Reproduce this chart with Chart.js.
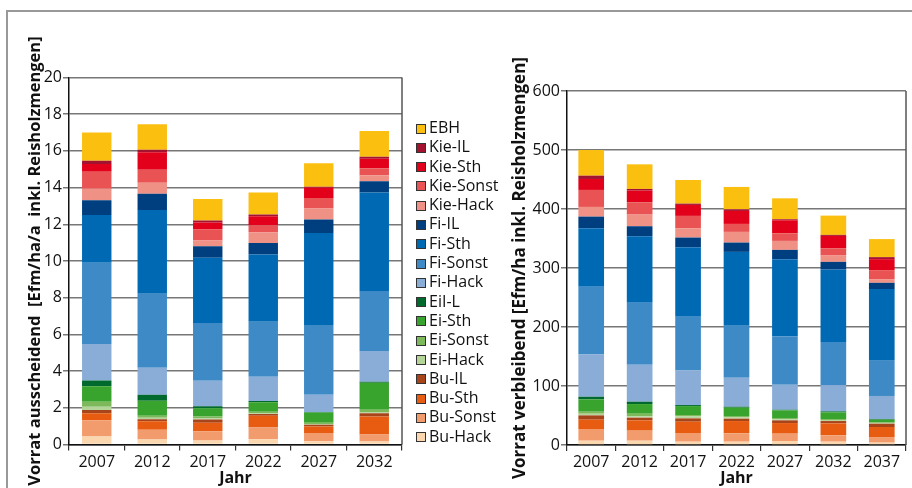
<!DOCTYPE html>
<html>
<head>
    <meta charset="utf-8">
    <title>Vorrat ausscheidend / verbleibend</title>
    <script src="https://cdn.jsdelivr.net/npm/chart.js"></script>
    <style>
        body { margin: 0; background: #fff; font-family: "Open Sans", sans-serif; }
        #frame {
            position: absolute; left: 6px; top: 10px; width: 906px; height: 478px;
            border-top: 2px solid #999; border-left: 2px solid #999; box-sizing: border-box;
        }
        #leftWrap  { position: absolute; left: 8px;   top: 12px; width: 400px; height: 476px; }
        #rightWrap { position: absolute; left: 480px; top: 12px; width: 432px; height: 476px; }
        #legend { position: absolute; left: 416px; top: 118px; font-size: 16px; color: #111; }
        #legend div { height: 19.3px; line-height: 19.3px; white-space: nowrap; }
        #legend span {
            display: inline-block; width: 8px; height: 8px; border: 1px solid #333;
            margin-right: 3px; vertical-align: -0.5px;
        }
    </style>
</head>
<body>
    <div id="frame"></div>
    <div id="leftWrap"><canvas id="leftChart"></canvas></div>
    <div id="rightWrap"><canvas id="rightChart"></canvas></div>
    <div id="legend"></div>

    <script>
        // Reihenfolge von unten nach oben im Stapel
        const sorten = ['Bu-Hack', 'Bu-Sonst', 'Bu-Sth', 'Bu-IL', 'Ei-Hack', 'Ei-Sonst', 'Ei-Sth', 'EiI-L',
                        'Fi-Hack', 'Fi-Sonst', 'Fi-Sth', 'Fi-IL', 'Kie-Hack', 'Kie-Sonst', 'Kie-Sth', 'Kie-IL', 'EBH'];
        const farben = ['#FBD7B0', '#F29C6E', '#E85C12', '#A8441A', '#B5D49A', '#7DB85A', '#38A42E', '#00692E',
                        '#8AADD8', '#3D8AC6', '#0069B4', '#003F7F', '#F09186', '#E95353', '#E2001A', '#A3122F', '#FBBF10'];

        // Vorrat ausscheidend [Efm/ha/a]
        const jahreAus = ['2007', '2012', '2017', '2022', '2027', '2032'];
        const aus2007 = [0.43, 0.89, 0.38, 0.18, 0.18, 0.27, 0.85, 0.31, 1.99, 4.43, 2.60, 0.80, 0.63, 0.92, 0.42, 0.18, 1.54];
        const aus2012 = [0.27, 0.54, 0.46, 0.10, 0.09, 0.11, 0.82, 0.32, 1.47, 4.03, 4.57, 0.89, 0.60, 0.70, 0.96, 0.13, 1.39];
        const aus2017 = [0.22, 0.50, 0.46, 0.18, 0.07, 0.09, 0.45, 0.11, 1.39, 3.15, 3.56, 0.63, 0.31, 0.60, 0.38, 0.11, 1.17];
        const aus2022 = [0.29, 0.63, 0.65, 0.09, 0.04, 0.09, 0.51, 0.07, 1.32, 3.00, 3.67, 0.62, 0.59, 0.36, 0.51, 0.09, 1.20];
        const aus2027 = [0.18, 0.45, 0.35, 0.09, 0.03, 0.09, 0.56, 0.02, 0.94, 3.80, 5.01, 0.74, 0.60, 0.58, 0.57, 0.04, 1.28];
        const aus2032 = [0.16, 0.38, 0.98, 0.18, 0.05, 0.15, 1.46, 0.06, 1.68, 3.27, 5.36, 0.61, 0.33, 0.39, 0.51, 0.11, 1.41];

        // Vorrat verbleibend [Efm/ha]
        const jahreVer = ['2007', '2012', '2017', '2022', '2027', '2032', '2037'];
        const ver2007 = [7.3, 19.8, 15.8, 7.3, 2.8, 3.4, 20.9, 4.5, 71.7, 114.6, 99.3, 19.7, 16.4, 28.8, 18.6, 5.6, 43.5];
        const ver2012 = [7.3, 17.0, 17.5, 4.5, 2.2, 4.5, 16.4, 4.0, 62.6, 105.0, 112.8, 17.0, 19.7, 20.9, 19.8, 2.8, 41.7];
        const ver2017 = [5.6, 14.7, 19.2, 5.6, 3.4, 2.3, 15.2, 1.7, 58.7, 90.9, 117.9, 16.4, 15.8, 20.9, 18.6, 2.2, 40.1];
        const ver2022 = [5.6, 14.2, 20.8, 4.0, 2.2, 2.3, 14.1, 1.7, 49.1, 88.0, 125.3, 15.8, 18.1, 13.5, 22.0, 2.8, 37.9];
        const ver2027 = [6.8, 12.4, 18.0, 4.6, 1.7, 2.2, 13.0, 1.1, 42.3, 82.4, 130.4, 15.8, 15.2, 13.0, 22.0, 1.7, 35.5];
        const ver2032 = [5.6, 10.8, 20.3, 3.9, 1.7, 1.7, 11.3, 1.7, 44.6, 72.8, 123.0, 13.0, 10.7, 12.4, 20.9, 1.7, 32.7];
        const ver2037 = [4.0, 9.5, 17.0, 5.6, 1.1, 1.2, 4.5, 1.1, 39.1, 60.9, 120.2, 10.7, 6.2, 15.3, 18.6, 3.4, 30.6];

        const FONT = '"Open Sans", sans-serif';

        // rechte Begrenzung des Diagrammbereichs
        const rechterRand = {
            id: 'rechterRand',
            afterDraw(chart) {
                const { ctx, chartArea: a } = chart;
                ctx.save();
                ctx.strokeStyle = '#555';
                ctx.lineWidth = 1.5;
                ctx.beginPath();
                ctx.moveTo(a.right, a.top);
                ctx.lineTo(a.right, a.bottom);
                ctx.stroke();
                ctx.restore();
            }
        };

        function baueDatensaetze(zeilen) {
            return sorten.map((name, i) => ({
                label: name,
                data: zeilen.map(z => z[i]),
                backgroundColor: farben[i],
                borderWidth: 0,
                categoryPercentage: 1,
                barPercentage: 0.53
            }));
        }

        function baueDiagramm(id, jahre, zeilen, max, schritt, titel, opt) {
            return new Chart(document.getElementById(id), {
                type: 'bar',
                data: { labels: jahre, datasets: baueDatensaetze(zeilen) },
                plugins: [rechterRand],
                options: {
                    responsive: true,
                    maintainAspectRatio: false,
                    animation: false,
                    layout: { padding: { top: opt.top, right: 6, left: 0, bottom: 0 } },
                    plugins: { legend: { display: false }, tooltip: { enabled: false } },
                    scales: {
                        x: {
                            stacked: true,
                            grid: { offset: true, drawOnChartArea: false, drawTicks: true, tickLength: 6, color: '#333', lineWidth: 1.2 },
                            border: { color: '#111', width: 1.5 },
                            ticks: { color: '#111', padding: 2, font: { family: FONT, size: 16 } },
                            title: { display: true, text: 'Jahr', color: '#111', padding: { top: 0, bottom: 0 },
                                     font: { family: FONT, size: 16, weight: 'bold' } },
                            afterFit: s => { s.height = opt.bottom; }
                        },
                        y: {
                            stacked: true,
                            min: 0, max: max,
                            grid: { color: '#777', lineWidth: 1.5, drawTicks: true, tickLength: 6 },
                            border: { color: '#111', width: 1.5 },
                            ticks: { stepSize: schritt, color: '#111', padding: 1, font: { family: FONT, size: 16 } },
                            title: { display: true, text: titel, color: '#111', padding: { top: opt.titlePad, bottom: 0 },
                                     font: { family: FONT, size: opt.titleSize, weight: 'bold' } },
                            afterFit: s => { s.width = opt.yWidth; }
                        }
                    }
                }
            });
        }

        baueDiagramm('leftChart', jahreAus, [aus2007, aus2012, aus2017, aus2022, aus2027, aus2032],
            20, 2, 'Vorrat ausscheidend  [Efm/ha/a  inkl. Reisholzmengen]',
            { top: 65.5, bottom: 43.5, yWidth: 61, titlePad: 17, titleSize: 16.5 });

        baueDiagramm('rightChart', jahreVer, [ver2007, ver2012, ver2017, ver2022, ver2027, ver2032, ver2037],
            600, 100, 'Vorrat verbleibend [Efm/ha inkl. Reisholzmengen]',
            { top: 79, bottom: 43, yWidth: 87, titlePad: 29.5, titleSize: 17 });

        // Legende: EBH oben, Bu-Hack unten
        const legende = document.getElementById('legend');
        for (let i = sorten.length - 1; i >= 0; i--) {
            const zeile = document.createElement('div');
            const box = document.createElement('span');
            box.style.background = farben[i];
            zeile.appendChild(box);
            zeile.appendChild(document.createTextNode(sorten[i]));
            legende.appendChild(zeile);
        }
    </script>
</body>
</html>
